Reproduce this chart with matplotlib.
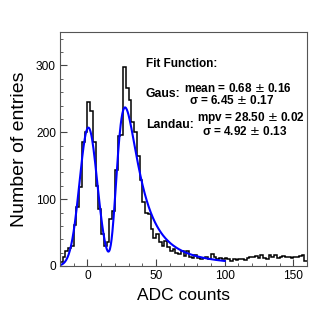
import numpy as np
import matplotlib
matplotlib.use('Agg')
import matplotlib.pyplot as plt
from matplotlib.ticker import MultipleLocator

plt.rcParams['font.family'] = ['Liberation Sans', 'DejaVu Sans']

# histogram: bins of width 2 from -20 to 160
bin_lo, bin_hi, bin_w = -20, 160, 2
counts = [6, 14, 22, 27, 30, 62, 88, 118, 186, 200,
          245, 232, 185, 120, 86, 48, 30, 36, 71, 82,
          143, 194, 196, 298, 266, 248, 215, 200, 165, 128,
          96, 80, 78, 55, 42, 48, 36, 30, 38, 28,
          22, 26, 20, 18, 22, 15, 22, 14, 12, 16,
          12, 10, 12, 14, 10, 18, 14, 10, 12, 10,
          12, 10, 8, 10, 9, 11, 10, 9, 12, 14,
          13, 15, 12, 16, 12, 11, 16, 13, 17, 12,
          14, 15, 13, 14, 12, 14, 13, 15, 16, 8]

# fit parameters (Gaus + Landau), amplitudes estimated from the curve
gaus_const, gaus_mean, gaus_sigma = 207.0, 0.68, 6.45
landau_const, landau_mpv, landau_sigma = 1313.0, 28.50, 4.92
fit_range = (-20, 100)


def landau(x):
    # standard Landau density via its characteristic function
    k = np.linspace(1e-9, 25, 12500)
    out = np.empty_like(x)
    for i, xi in enumerate(x):
        f = np.exp(-np.pi * k / 2) * np.cos(k * np.log(k) + k * xi)
        out[i] = np.trapezoid(f, k) / np.pi
    return np.clip(out, 0, None)


edges = np.arange(bin_lo, bin_hi + bin_w / 2, bin_w)
xf = np.linspace(fit_range[0], fit_range[1], 400)
yf = (gaus_const * np.exp(-0.5 * ((xf - gaus_mean) / gaus_sigma) ** 2)
      + landau_const * landau((xf - landau_mpv) / landau_sigma))

fig = plt.figure(figsize=(3.27, 3.11), dpi=100)
ax = fig.add_axes([60 / 327, 1 - 266 / 311, 247 / 327, 234 / 311])

ax.stairs(counts, edges, color='black', lw=1.1, baseline=None)
ax.plot(xf, yf, color='#0000ff', lw=1.5)

ax.set_xlim(-20, 160)
ax.set_ylim(0, 350)
ax.xaxis.set_major_locator(MultipleLocator(50))
ax.xaxis.set_minor_locator(MultipleLocator(10))
ax.yaxis.set_major_locator(MultipleLocator(100))
ax.yaxis.set_minor_locator(MultipleLocator(20))
ax.tick_params(which='both', direction='in', top=False, right=False,
               labelsize=8.6, color='#444444', pad=3)
ax.tick_params(which='major', length=5)
ax.tick_params(which='minor', length=2.5)
for s in ax.spines.values():
    s.set_color('#555555')
    s.set_linewidth(0.8)

ax.set_xlabel('ADC counts', fontsize=12.5, labelpad=4)
ax.set_ylabel('Number of entries', fontsize=14, labelpad=6)


def px_text(x, y, s, size):
    fig.text(x / 327, 1 - y / 311, s, fontsize=size, fontweight='bold',
             va='baseline', ha='left')


px_text(145.7, 67.3, 'Fit Function:', 8.5)
px_text(145.7, 97, 'Gaus:', 8.8)
px_text(184.3, 91.5, 'mean = 0.68 $\\pm$ 0.16', 8.5)
px_text(189.3, 104, '\u03c3 = 6.45 $\\pm$ 0.17', 8.5)
px_text(145.7, 128, 'Landau:', 8.8)
px_text(196.7, 121, 'mpv = 28.50 $\\pm$ 0.02', 8.5)
px_text(201.7, 135, '\u03c3 = 4.92 $\\pm$ 0.13', 8.5)

fig.savefig('out.png', dpi=100)
